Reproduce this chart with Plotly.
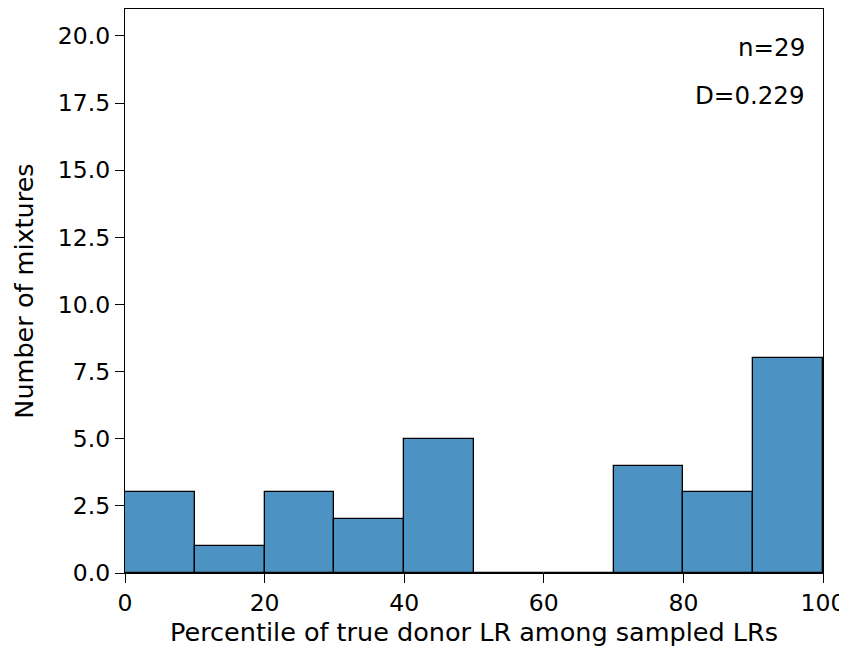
import plotly.graph_objects as go

bin_edges = [0, 10, 20, 30, 40, 50, 60, 70, 80, 90, 100]
counts = [3, 1, 3, 2, 5, 0, 0, 4, 3, 8]
x_ticks = [0, 20, 40, 60, 80, 100]
y_ticks = [0, 2.5, 5, 7.5, 10, 12.5, 15, 17.5, 20]
n_label = "n=29"
d_label = "D=0.229"
x_title = "Percentile of true donor LR among sampled LRs"
y_title = "Number of mixtures"

centers = [(a + b) / 2 for a, b in zip(bin_edges[:-1], bin_edges[1:])]
widths = [b - a for a, b in zip(bin_edges[:-1], bin_edges[1:])]

FONT = "DejaVu Sans"
TICK_FS = 23.5
TITLE_FS = 25.5
ANN_FS = 24.5
fig = go.Figure()
fig.add_trace(go.Bar(
    x=centers, y=counts, width=widths,
    marker=dict(color="rgba(31,119,180,0.8)", line=dict(color="black", width=1.3)),
    showlegend=False,
))

axis_common = dict(
    showline=True, linecolor="black", linewidth=1.3, mirror=True,
    ticks="outside", ticklen=9, tickwidth=1.3, tickcolor="black",
    showgrid=False, zeroline=False,
    tickfont=dict(family=FONT, size=TICK_FS, color="black"),
)
fig.update_xaxes(range=[0, 100], tickvals=x_ticks, ticktext=[str(v) for v in x_ticks],
                 title=dict(text=x_title, font=dict(family=FONT, size=TITLE_FS, color="black"), standoff=8),
                 **axis_common)
fig.update_yaxes(range=[0, 21], tickvals=y_ticks, ticktext=[f"{v:.1f}" for v in y_ticks],
                 title=dict(text=y_title, font=dict(family=FONT, size=TITLE_FS, color="black"), standoff=16),
                 **axis_common)

# plot area in page pixels: left 125, right 823, top 9, bottom 573
top, bottom, left, right = 9, 573, 125, 823
h = bottom - top
w = right - left
fig.add_annotation(x=(807 - left) / w, y=(bottom - 47) / h, xref="paper", yref="paper",
                   text=n_label, showarrow=False, xanchor="right", yanchor="middle",
                   font=dict(family=FONT, size=ANN_FS, color="black"))
fig.add_annotation(x=(807 - left) / w, y=(bottom - 95) / h, xref="paper", yref="paper",
                   text=d_label, showarrow=False, xanchor="right", yanchor="middle",
                   font=dict(family=FONT, size=ANN_FS, color="black"))

# page has an 8px body margin; keep the page from overflowing the window
fig.update_layout(
    width=839, height=639,
    margin=dict(l=117, r=24, t=1, b=74),
    paper_bgcolor="white", plot_bgcolor="white",
    bargap=0,
)
fig.write_html("out.html")
